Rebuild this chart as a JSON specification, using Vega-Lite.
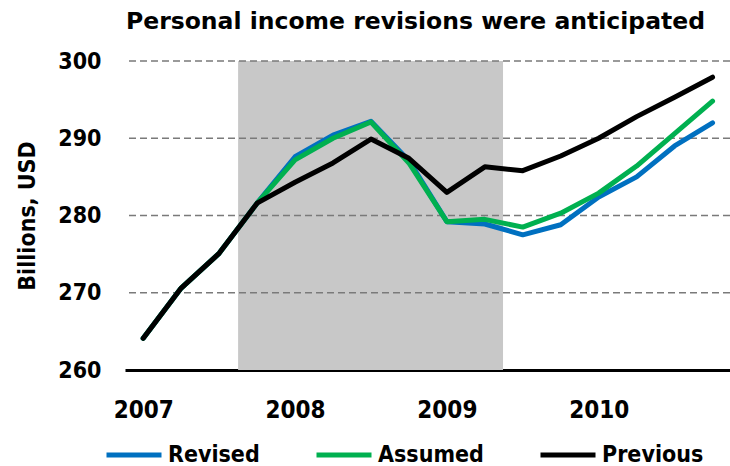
{
  "$schema": "https://vega.github.io/schema/vega-lite/v6.json",
  "width": 605,
  "height": 309,
  "autosize": "none",
  "padding": {"left": 125, "top": 61, "right": 0, "bottom": 96},
  "background": "white",
  "title": {
    "text": "Personal income revisions were anticipated",
    "font": "DejaVu Sans",
    "fontSize": 23.5,
    "fontWeight": "bold",
    "color": "black",
    "anchor": "middle",
    "dx": -12,
    "offset": 17
  },
  "config": {
    "view": {"stroke": null},
    "font": "DejaVu Sans Condensed, DejaVu Sans"
  },
  "datasets": {
    "recession": [{"start": 2007.625, "end": 2009.37}],
    "grid": [{"v": 270}, {"v": 280}, {"v": 290}, {"v": 300}],
    "series": [
      {"series": "Revised", "q": 2007.0, "value": 264.1},
      {"series": "Revised", "q": 2007.25, "value": 270.6},
      {"series": "Revised", "q": 2007.5, "value": 275.1},
      {"series": "Revised", "q": 2007.75, "value": 281.6},
      {"series": "Revised", "q": 2008.0, "value": 287.6},
      {"series": "Revised", "q": 2008.25, "value": 290.4},
      {"series": "Revised", "q": 2008.5, "value": 292.2},
      {"series": "Revised", "q": 2008.75, "value": 287.1},
      {"series": "Revised", "q": 2009.0, "value": 279.2},
      {"series": "Revised", "q": 2009.25, "value": 278.9},
      {"series": "Revised", "q": 2009.5, "value": 277.5},
      {"series": "Revised", "q": 2009.75, "value": 278.8},
      {"series": "Revised", "q": 2010.0, "value": 282.4},
      {"series": "Revised", "q": 2010.25, "value": 285.0},
      {"series": "Revised", "q": 2010.5, "value": 289.0},
      {"series": "Revised", "q": 2010.75, "value": 292.0},
      {"series": "Assumed", "q": 2007.0, "value": 264.1},
      {"series": "Assumed", "q": 2007.25, "value": 270.6},
      {"series": "Assumed", "q": 2007.5, "value": 275.1},
      {"series": "Assumed", "q": 2007.75, "value": 281.6},
      {"series": "Assumed", "q": 2008.0, "value": 287.2},
      {"series": "Assumed", "q": 2008.25, "value": 290.0},
      {"series": "Assumed", "q": 2008.5, "value": 292.1},
      {"series": "Assumed", "q": 2008.75, "value": 286.8},
      {"series": "Assumed", "q": 2009.0, "value": 279.2},
      {"series": "Assumed", "q": 2009.25, "value": 279.5},
      {"series": "Assumed", "q": 2009.5, "value": 278.5},
      {"series": "Assumed", "q": 2009.75, "value": 280.3},
      {"series": "Assumed", "q": 2010.0, "value": 282.9},
      {"series": "Assumed", "q": 2010.25, "value": 286.4},
      {"series": "Assumed", "q": 2010.5, "value": 290.6},
      {"series": "Assumed", "q": 2010.75, "value": 294.8},
      {"series": "Previous", "q": 2007.0, "value": 264.1},
      {"series": "Previous", "q": 2007.25, "value": 270.6},
      {"series": "Previous", "q": 2007.5, "value": 275.1},
      {"series": "Previous", "q": 2007.75, "value": 281.6},
      {"series": "Previous", "q": 2008.0, "value": 284.3},
      {"series": "Previous", "q": 2008.25, "value": 286.8},
      {"series": "Previous", "q": 2008.5, "value": 289.9},
      {"series": "Previous", "q": 2008.75, "value": 287.4},
      {"series": "Previous", "q": 2009.0, "value": 283.0},
      {"series": "Previous", "q": 2009.25, "value": 286.3},
      {"series": "Previous", "q": 2009.5, "value": 285.8},
      {"series": "Previous", "q": 2009.75, "value": 287.7},
      {"series": "Previous", "q": 2010.0, "value": 290.0},
      {"series": "Previous", "q": 2010.25, "value": 292.8},
      {"series": "Previous", "q": 2010.5, "value": 295.3},
      {"series": "Previous", "q": 2010.75, "value": 297.9}
    ]
  },
  "layer": [
    {
      "data": {"name": "recession"},
      "mark": {"type": "rect", "color": "#c8c8c8"},
      "encoding": {
        "x": {
          "field": "start",
          "type": "quantitative",
          "scale": {"domain": [2006.88, 2010.865], "nice": false, "zero": false},
          "axis": {
            "values": [2007, 2008, 2009, 2010],
            "format": "d",
            "title": null,
            "grid": false,
            "ticks": false,
            "tickSize": 0,
            "domainColor": "black",
            "domainWidth": 3,
            "labelFont": "DejaVu Sans Condensed, DejaVu Sans",
            "labelFontSize": 24,
            "labelFontWeight": "bold",
            "labelColor": "black",
            "labelBaseline": "top",
            "labelPadding": 28,
            "labelFlush": false
          }
        },
        "x2": {"field": "end"}
      }
    },
    {
      "data": {"name": "grid"},
      "mark": {"type": "rule", "stroke": "#7a7a7a", "strokeWidth": 1.7, "strokeDash": [7, 4]},
      "encoding": {
        "y": {
          "field": "v",
          "type": "quantitative",
          "scale": {"domain": [260, 300], "nice": false, "zero": false},
          "axis": {
            "values": [260, 270, 280, 290, 300],
            "title": "Billions, USD",
            "titleFont": "DejaVu Sans Condensed, DejaVu Sans",
            "titleFontSize": 23,
            "titleFontWeight": "bold",
            "titleColor": "black",
            "titlePadding": 18,
            "grid": false,
            "ticks": false,
            "tickSize": 0,
            "domain": false,
            "labelFont": "DejaVu Sans Condensed, DejaVu Sans",
            "labelFontSize": 23,
            "labelFontWeight": "bold",
            "labelColor": "black",
            "labelPadding": 24,
            "labelFlush": false
          }
        }
      }
    },
    {
      "data": {"name": "series"},
      "mark": {"type": "line", "strokeWidth": 5, "strokeCap": "round", "strokeJoin": "round"},
      "encoding": {
        "x": {"field": "q", "type": "quantitative"},
        "y": {"field": "value", "type": "quantitative"},
        "color": {
          "field": "series",
          "type": "nominal",
          "scale": {"domain": ["Revised", "Assumed", "Previous"], "range": ["#0070C0", "#00B050", "#000000"]},
          "legend": {
            "title": null,
            "orient": "none",
            "legendX": -21,
            "legendY": 364,
            "direction": "horizontal",
            "columns": 3,
            "columnPadding": 46,
            "padding": 0,
            "symbolType": "stroke",
            "symbolSize": 3025,
            "symbolStrokeWidth": 5,
            "labelFont": "DejaVu Sans Condensed, DejaVu Sans",
            "labelFontSize": 23,
            "labelFontWeight": "bold",
            "labelColor": "black",
            "labelOffset": 4,
            "labelLimit": 300
          }
        }
      }
    }
  ]
}
